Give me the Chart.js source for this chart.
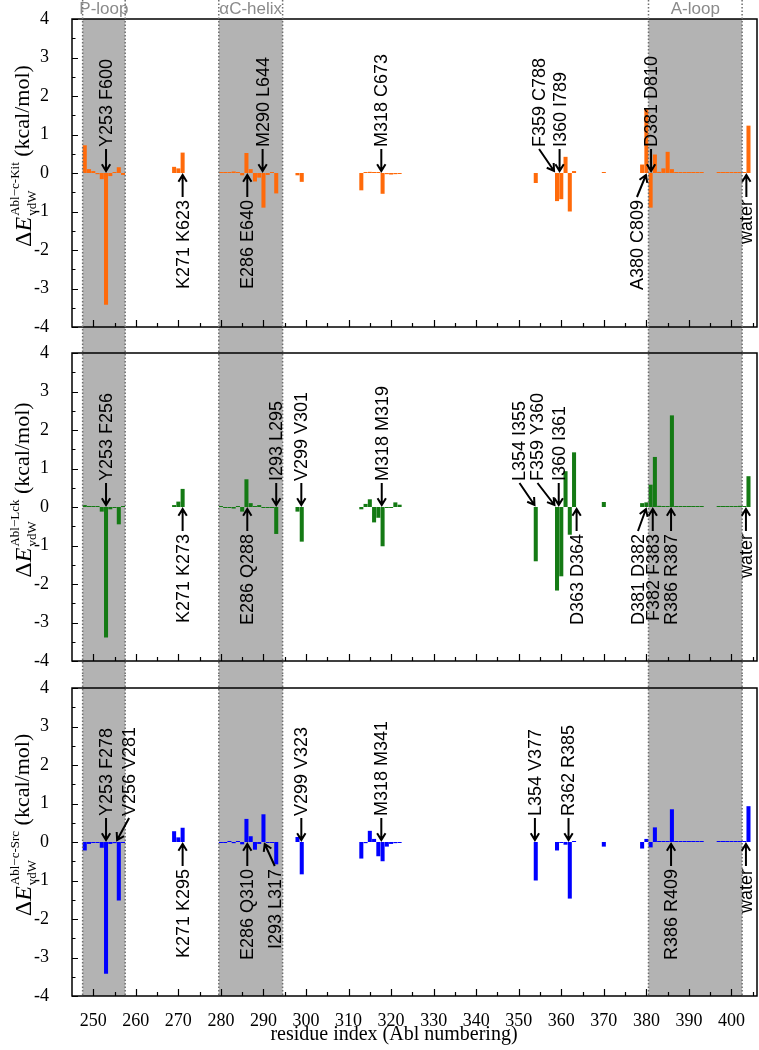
<!DOCTYPE html>
<html>
<head>
<meta charset="utf-8">
<script src="https://cdn.jsdelivr.net/npm/chart.js@4.4.1/dist/chart.umd.min.js"></script>
<style>
  body { margin: 0; background: #fff; }
  #wrap { position: relative; width: 759px; height: 1050px; }
  canvas { position: absolute; left: 0; }
</style>
</head>
<body>
<div id="wrap">
  <canvas id="kit" width="759" height="340" style="top:0"></canvas>
  <canvas id="lck" width="759" height="335" style="top:340px"></canvas>
  <canvas id="src" width="759" height="375" style="top:675px"></canvas>
</div>
<script>
// residue positions (Abl numbering), last one is "water"
const residues = [248, 249, 250, 251, 252, 253, 254, 255, 256, 257,
  269, 270, 271,
  280, 281, 282, 283, 284, 285, 286, 287, 288, 289, 290, 291, 292, 293,
  298, 299,
  313, 314, 315, 316, 317, 318, 319, 320, 321, 322,
  354,
  359, 360, 361, 362, 363,
  370,
  379, 380, 381, 382, 383, 384, 385, 386, 387, 388, 389, 390, 391, 392, 393,
  397, 398, 399, 400, 401, 402, 403,
  404];

const kitValues = [0.72, 0.1, 0.05, -0.03, -0.16, -3.42, -0.08, 0.02, 0.15, -0.05,
  0.16, 0.12, 0.53,
  0.01, 0.01, 0.02, 0.04, 0.02, -0.06, 0.52, 0.1, -0.22, -0.12, -0.9, -0.05, 0.01, -0.53,
  -0.06, -0.23,
  -0.45, 0.02, 0.03, 0.02, 0.02, -0.54, -0.03, -0.04, -0.03, -0.01,
  -0.26,
  -0.73, -0.68, 0.42, -1.0, 0.05,
  0.01,
  0.22, 1.66, -0.9, 0.48, 0.03, 0.12, 0.55, 0.1, 0.02, 0.01, 0.01, 0.01, 0.01, 0.01, 0.01,
  0.01, 0.01, 0.01, 0.01, 0.01, 0.02, 0.01,
  1.23];

const lckValues = [0.05, 0.02, 0.02, 0.01, -0.12, -3.39, -0.06, -0.01, -0.45, 0.01,
  0.05, 0.14, 0.47,
  0.01, -0.01, -0.02, -0.04, 0.02, -0.12, 0.72, 0.1, 0.02, 0.05, -0.01, -0.01, -0.01, -0.7,
  -0.12, -0.9,
  -0.06, 0.08, 0.2, -0.4, -0.28, -1.02, -0.02, -0.02, 0.12, 0.06,
  -1.41,
  -2.17, -1.8, 0.93, -0.72, 1.42,
  0.13,
  0.1, 0.12, 0.58, 1.3, 0.03, 0.02, 0.02, 2.38, 0.01, 0.01, 0.01, 0.01, 0.01, 0.01, 0.01,
  0.01, 0.01, 0.01, 0.01, 0.01, 0.03, 0.01,
  0.8];

const srcValues = [-0.22, -0.05, -0.02, -0.02, -0.15, -3.42, -0.05, -0.03, -1.52, -0.02,
  0.28, 0.12, 0.37,
  -0.01, -0.01, 0.01, -0.03, 0.01, -0.06, 0.6, 0.15, -0.2, -0.05, 0.72, -0.02, -0.02, -0.58,
  0.13, -0.84,
  -0.43, -0.03, 0.29, 0.08, -0.37, -0.5, -0.12, -0.05, -0.03, -0.01,
  -1.0,
  -0.22, -0.02, -0.07, -1.47, 0.01,
  -0.12,
  -0.17, 0.08, -0.14, 0.38, 0.01, 0.01, 0.01, 0.85, 0.01, 0.01, 0.01, 0.01, 0.01, 0.01, 0.01,
  0.01, 0.01, 0.01, 0.01, 0.01, 0.01, 0.01,
  0.93];

const xTickValues = [250, 260, 270, 280, 290, 300, 310, 320, 330, 340, 350, 360, 370, 380, 390, 400];
const yTickValues = [-4, -3, -2, -1, 0, 1, 2, 3, 4];

// shaded structural regions
const regionNames = ['P-loop', 'αC-helix', 'A-loop'];
const regionFrom = [247.5, 279.5, 380.5];
const regionTo = [257.5, 294.5, 402.5];

// annotations: label, residue pointed at, side of the zero line
const kitNotes = [['Y253 F600', 253, 'up'], ['K271 K623', 271, 'down'], ['E286 E640', 286.2, 'down'],
  ['M290 L644', 289.8, 'up'], ['M318 C673', 317.7, 'up'], ['F359 C788', 358.3, 'up'],
  ['I360 I789', 359.6, 'up'], ['A380 C809', 379.9, 'down'], ['D381 D810', 381.1, 'up'],
  ['water', 403.5, 'down']];
const lckNotes = [['Y253 F256', 253, 'up'], ['K271 K273', 271, 'down'], ['E286 Q288', 286.2, 'down'],
  ['I293 L295', 293, 'up'], ['V299 V301', 298.9, 'up'], ['M318 M319', 317.8, 'up'],
  ['L354 I355', 353.7, 'up'], ['F359 Y360', 358.4, 'up'], ['I360 I361', 359.4, 'up'],
  ['D363 D364', 363.6, 'down'], ['D381 D382', 379.9, 'down'], ['F382 F383', 381.5, 'down'],
  ['R386 R387', 385.8, 'down'], ['water', 403.4, 'down']];
const srcNotes = [['Y253 F278', 253, 'up'], ['V256 V281', 255.6, 'up'], ['K271 K295', 271, 'down'],
  ['E286 Q310', 286.2, 'down'], ['I293 L317', 290.3, 'down'], ['V299 V323', 298.9, 'up'],
  ['M318 M341', 317.7, 'up'], ['L354 V377', 353.8, 'up'], ['R362 R385', 361.7, 'up'],
  ['R386 R409', 385.8, 'down'], ['water', 403.4, 'down']];

// sideways shift (px) of labels that use a slanted arrow
const labelShift = { 'F359 C788': -15, 'A380 C809': -9, 'L354 I355': -15, 'F359 Y360': -17,
  'D381 D382': -8, 'V256 V281': 12, 'I293 L317': 10 };

const SERIF = '"Liberation Serif", "Times New Roman", serif';
const SANS = '"Liberation Sans", Arial, sans-serif';

function arrow(ctx, x0, y0, x1, y1) {
  const ang = Math.atan2(y1 - y0, x1 - x0), h = 8;
  ctx.beginPath();
  ctx.moveTo(x0, y0);
  ctx.lineTo(x1, y1);
  ctx.moveTo(x1 - h * Math.cos(ang - 0.55), y1 - h * Math.sin(ang - 0.55));
  ctx.lineTo(x1, y1);
  ctx.lineTo(x1 - h * Math.cos(ang + 0.55), y1 - h * Math.sin(ang + 0.55));
  ctx.stroke();
}

function yTitle(ctx, cx, cy, sup) {
  const big = '24px ' + SERIF, ital = 'italic 24px ' + SERIF, unit = '22px ' + SERIF, small = '13px ' + SERIF;
  ctx.save();
  ctx.translate(cx, cy);
  ctx.rotate(-Math.PI / 2);
  ctx.fillStyle = '#000';
  ctx.textBaseline = 'alphabetic';
  ctx.textAlign = 'left';
  ctx.font = big; const wD = ctx.measureText('Δ').width;
  ctx.font = ital; const wE = ctx.measureText('E').width;
  ctx.font = small; const wS = Math.max(ctx.measureText(sup).width, ctx.measureText('vdW').width);
  ctx.font = unit; const wU = ctx.measureText(' (kcal/mol)').width;
  let x = -(wD + wE + 1 + wS + wU) / 2;
  ctx.font = big; ctx.fillText('Δ', x, 0); x += wD;
  ctx.font = ital; ctx.fillText('E', x, 0); x += wE + 1;
  ctx.font = small; ctx.fillText(sup, x, -12); ctx.fillText('vdW', x, 5); x += wS;
  ctx.font = unit; ctx.fillText(' (kcal/mol)', x, -2);
  ctx.restore();
}

const panelPlugin = {
  id: 'panel',
  beforeDatasetsDraw(chart, args, opts) {
    const { ctx, chartArea: a, scales: { x } } = chart;
    const top = opts.first ? a.top : 0;
    const bottom = opts.last ? a.bottom : chart.height;
    ctx.save();
    ctx.fillStyle = '#b3b3b3';
    regionFrom.forEach((f, i) => {
      const x0 = x.getPixelForValue(f), x1 = x.getPixelForValue(regionTo[i]);
      ctx.fillRect(x0, top, x1 - x0, bottom - top);
    });
    ctx.restore();
  },
  afterDraw(chart, args, opts) {
    const { ctx, chartArea: a, scales: { x, y } } = chart;
    const zero = y.getPixelForValue(0);
    ctx.save();

    // inward ticks
    ctx.strokeStyle = '#000';
    ctx.lineWidth = 1.2;
    ctx.beginPath();
    for (let v = -4; v <= 4; v += 0.5) {
      const py = Math.round(y.getPixelForValue(v)) + 0.5;
      ctx.moveTo(a.left, py);
      ctx.lineTo(a.left + (Number.isInteger(v) ? 6 : 3.5), py);
    }
    for (let v = 250; v <= 405; v += 5) {
      const px = Math.round(x.getPixelForValue(v)) + 0.5;
      ctx.moveTo(px, a.bottom);
      ctx.lineTo(px, a.bottom - (v % 10 === 0 ? 7 : 4));
    }
    ctx.stroke();

    // frame
    ctx.lineWidth = 1.5;
    ctx.strokeRect(a.left, a.top, a.right - a.left, a.bottom - a.top);

    // dotted region borders
    ctx.strokeStyle = '#6e6e6e';
    ctx.lineWidth = 1.5;
    ctx.setLineDash([1.5, 2]);
    const lineBottom = opts.last ? a.bottom : chart.height;
    regionFrom.concat(regionTo).forEach(v => {
      const px = x.getPixelForValue(v);
      ctx.beginPath();
      ctx.moveTo(px, 0);
      ctx.lineTo(px, lineBottom);
      ctx.stroke();
    });
    ctx.setLineDash([]);

    // region names
    if (opts.first) {
      ctx.fillStyle = '#8a8a8a';
      ctx.font = '17px ' + SANS;
      ctx.textAlign = 'center';
      ctx.textBaseline = 'middle';
      regionNames.forEach((n, i) => {
        ctx.fillText(n, (x.getPixelForValue(regionFrom[i]) + x.getPixelForValue(regionTo[i])) / 2, 9);
      });
    }

    // residue annotations
    ctx.fillStyle = '#000';
    ctx.strokeStyle = '#000';
    ctx.lineWidth = 2;
    ctx.font = '18px ' + SANS;
    ctx.textBaseline = 'middle';
    opts.notes.forEach(([label, r, side]) => {
      const px = x.getPixelForValue(r);
      const tx = px + (labelShift[label] || 0);
      const up = side === 'up';
      ctx.save();
      ctx.translate(tx, up ? zero - 26 : zero + 27);
      ctx.rotate(-Math.PI / 2);
      ctx.textAlign = up ? 'left' : 'right';
      ctx.fillText(label, 0, 1);
      ctx.restore();
      if (up) arrow(ctx, tx, zero - 24, px, zero - 2);
      else arrow(ctx, tx, zero + 24, px, zero + 2);
    });

    yTitle(ctx, 31, zero - 17, opts.sup);

    if (opts.last) {
      ctx.fillStyle = '#000';
      ctx.font = '20px ' + SERIF;
      ctx.textAlign = 'center';
      ctx.textBaseline = 'middle';
      ctx.fillText('residue index (Abl numbering)', 394, a.bottom + 39);
    }
    ctx.restore();
  }
};

function makePanel(id, values, color, notes, sup, first, last, pad) {
  new Chart(document.getElementById(id), {
    type: 'bar',
    data: {
      datasets: [{
        data: residues.map((r, i) => ({ x: r, y: values[i] })),
        backgroundColor: color,
        borderWidth: 0,
        barPercentage: 0.95,
        categoryPercentage: 1,
        minBarLength: 1
      }]
    },
    options: {
      responsive: false,
      animation: false,
      devicePixelRatio: 1,
      layout: { padding: pad },
      plugins: {
        legend: { display: false },
        tooltip: { enabled: false },
        panel: { notes, sup, first, last }
      },
      scales: {
        x: {
          type: 'linear',
          min: 245,
          max: 406,
          offset: false,
          grid: { display: false },
          border: { display: false },
          afterBuildTicks: s => { s.ticks = xTickValues.map(v => ({ value: v })); },
          afterFit: s => { s.height = last ? 54 : 0; },
          ticks: {
            display: last,
            autoSkip: false,
            maxRotation: 0,
            padding: 6,
            color: '#000',
            font: { family: SERIF, size: 18 }
          }
        },
        y: {
          min: -4,
          max: 4,
          grid: { display: false },
          border: { display: false },
          afterBuildTicks: s => { s.ticks = yTickValues.map(v => ({ value: v })); },
          afterFit: s => { s.width = 72; s.paddingTop = 0; s.paddingBottom = 0; },
          ticks: {
            padding: 15,
            color: '#000',
            font: { family: SERIF, size: 18 },
            callback: v => String(v)
          }
        }
      }
    },
    plugins: [panelPlugin]
  });
}

makePanel('kit', kitValues, '#ff6a0a', kitNotes, 'Abl−c-Kit', true, false,
  { left: 0, right: 2, top: 19, bottom: 13 });
makePanel('lck', lckValues, '#147a14', lckNotes, 'Abl−Lck', false, false,
  { left: 0, right: 2, top: 13, bottom: 14 });
makePanel('src', srcValues, '#0000ff', srcNotes, 'Abl−c-Src', false, true,
  { left: 0, right: 2, top: 13, bottom: 0 });
</script>
</body>
</html>
